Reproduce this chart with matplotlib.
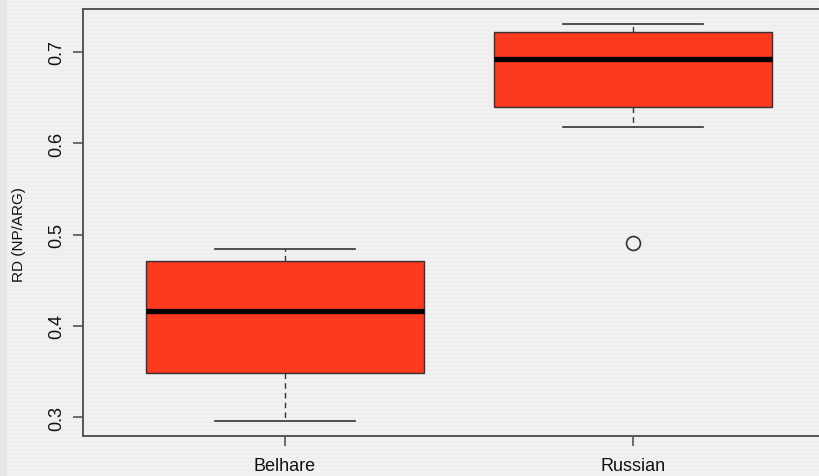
import numpy as np
import matplotlib
matplotlib.use("Agg")
import matplotlib.pyplot as plt
from matplotlib.patches import Rectangle

plt.rcParams['font.family'] = ['Liberation Sans', 'DejaVu Sans']

# summary stats per group (lower whisker, Q1, median, Q3, upper whisker)
groups = ["Belhare", "Russian"]
whisker_low = [0.2955, 0.6182]
q1 = [0.3485, 0.6397]
medians = [0.4164, 0.6923]
q3 = [0.4712, 0.7219]
whisker_high = [0.4844, 0.7307]
outliers = [[], [0.491]]

ytick_vals = [0.3, 0.4, 0.5, 0.6, 0.7]

W, H = 820, 477
fig = plt.figure(figsize=(W / 100, H / 100), dpi=100)

# pinstripe background like the old R Quartz window
rows = np.arange(H)
stripe = np.where((rows // 2) % 2 == 0, 0.945, 0.93)
bg = np.repeat(stripe[:, None], W, axis=1)
fig.figimage(bg, xo=0, yo=0, cmap='gray', vmin=0, vmax=1, origin='upper', zorder=-2)
fig.patches.append(Rectangle((0, 0), 7 / W, 1, transform=fig.transFigure,
                             facecolor='#e6e6e6', edgecolor='none', zorder=-1))

ax = fig.add_axes([83 / W, (H - 437) / H, (835 - 83) / W, (437 - 10) / H])
ax.set_zorder(1)
ax.patch.set_alpha(0)

stats = []
for i, g in enumerate(groups):
    stats.append(dict(label=g, whislo=whisker_low[i], q1=q1[i], med=medians[i],
                      q3=q3[i], whishi=whisker_high[i], fliers=outliers[i]))

ax.bxp(stats, positions=[1, 2], widths=0.8, capwidths=0.4, patch_artist=True,
       boxprops=dict(facecolor='#fd3a1e', edgecolor='#333333', linewidth=1.0),
       medianprops=dict(color='black', linewidth=3.8, solid_capstyle='butt'),
       whiskerprops=dict(color='#333333', linewidth=1.0, linestyle=(0, (4, 3))),
       capprops=dict(color='#333333', linewidth=1.2),
       flierprops=dict(marker='o', markersize=10, markerfacecolor='none',
                       markeredgecolor='#333333', markeredgewidth=1.2))

ax.set_xlim(0.42, 2.58)
ax.set_ylim(0.2792, 0.7471)
ax.set_yticks(ytick_vals)
ax.set_yticklabels([f"{v:.1f}" for v in ytick_vals], rotation=90, va='center')
ax.set_xticks([1, 2])
ax.set_xticklabels(groups)

for s in ax.spines.values():
    s.set_color('#555555')
    s.set_linewidth(1.4)

ax.tick_params(axis='both', direction='out', length=7, width=1.2, color='#555555',
               labelsize=13, labelcolor='#111111')
ax.tick_params(axis='y', pad=6)
ax.tick_params(axis='x', pad=8)

fig.text(19 / W, 1 - 235 / H, "RD (NP/ARG)", rotation=90, ha='center', va='center',
         fontsize=11, color='#111111')

fig.savefig("out.png", dpi=100)
